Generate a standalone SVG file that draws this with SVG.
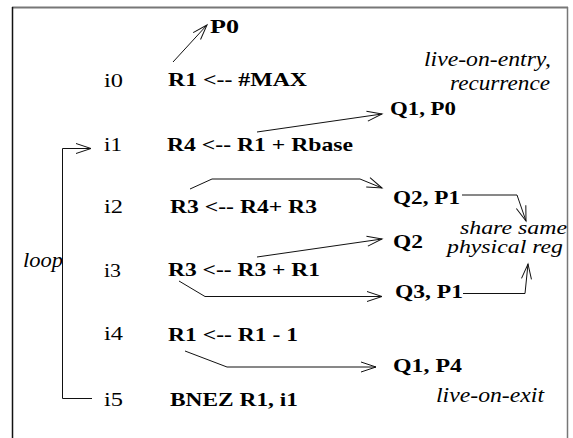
<svg xmlns="http://www.w3.org/2000/svg" width="573" height="438" viewBox="0 0 573 438">
  <style>
    .ins { font-family: "Liberation Serif", "Times New Roman", serif; font-weight: bold; font-size: 19px; fill: #000; }
    .lbl { font-family: "Liberation Serif", "Times New Roman", serif; font-size: 19px; fill: #000; }
    .note { font-family: "Liberation Serif", "Times New Roman", serif; font-style: italic; font-size: 20px; fill: #000; }
    .tight { font-size: 18px; }
    .wire { fill: none; stroke: #111; stroke-width: 1; marker-end: url(#head); }
  </style>
  <defs>
    <!-- open V arrowhead -->
    <marker id="head" markerUnits="userSpaceOnUse" markerWidth="20" markerHeight="14" refX="15" refY="5" orient="auto" overflow="visible">
      <path d="M0,0 L15,5 L0,10" fill="none" stroke="#111" stroke-width="1"/>
    </marker>
  </defs>

  <rect width="573" height="438" fill="#fff"/>

  <!-- frame (open at the bottom) -->
  <g id="frame">
    <line x1="12" y1="7.5" x2="568" y2="7.5" stroke="#777" stroke-width="2"/>
    <line x1="12.5" y1="7" x2="12.5" y2="438" stroke="#111" stroke-width="1.5"/>
    <line x1="567.5" y1="7" x2="567.5" y2="438" stroke="#777" stroke-width="1.5"/>
  </g>

  <!-- instruction rows -->
  <g id="row-i0">
    <text class="lbl" x="104" y="87" textLength="19" lengthAdjust="spacingAndGlyphs">i0</text>
    <text class="ins" x="168" y="86" textLength="139" lengthAdjust="spacingAndGlyphs">R1 &lt;-- #MAX</text>
  </g>
  <g id="row-i1">
    <text class="lbl" x="104" y="151" textLength="18" lengthAdjust="spacingAndGlyphs">i1</text>
    <text class="ins" x="167" y="151" textLength="186" lengthAdjust="spacingAndGlyphs">R4 &lt;-- R1 + Rbase</text>
  </g>
  <g id="row-i2">
    <text class="lbl" x="104" y="213" textLength="19" lengthAdjust="spacingAndGlyphs">i2</text>
    <text class="ins" x="170" y="213" textLength="147" lengthAdjust="spacingAndGlyphs">R3 &lt;-- R4+ R3</text>
  </g>
  <g id="row-i3">
    <text class="lbl" x="104" y="277" textLength="17" lengthAdjust="spacingAndGlyphs">i3</text>
    <text class="ins" x="168" y="276" textLength="152" lengthAdjust="spacingAndGlyphs">R3 &lt;-- R3 + R1</text>
  </g>
  <g id="row-i4">
    <text class="lbl" x="104" y="340" textLength="19" lengthAdjust="spacingAndGlyphs">i4</text>
    <text class="ins" x="168" y="341" textLength="130" lengthAdjust="spacingAndGlyphs">R1 &lt;-- R1 - 1</text>
  </g>
  <g id="row-i5">
    <text class="lbl" x="104" y="406" textLength="19" lengthAdjust="spacingAndGlyphs">i5</text>
    <text class="ins" x="170" y="406" textLength="128" lengthAdjust="spacingAndGlyphs">BNEZ R1, i1</text>
  </g>

  <!-- physical register targets -->
  <g id="reg-p0"><text class="ins" x="210" y="33" textLength="29" lengthAdjust="spacingAndGlyphs">P0</text></g>
  <g id="reg-q1p0"><text class="ins" x="390" y="115" textLength="66" lengthAdjust="spacingAndGlyphs">Q1, P0</text></g>
  <g id="reg-q2p1"><text class="ins" x="393" y="204" textLength="67" lengthAdjust="spacingAndGlyphs">Q2, P1</text></g>
  <g id="reg-q2"><text class="ins" x="393" y="248" textLength="30" lengthAdjust="spacingAndGlyphs">Q2</text></g>
  <g id="reg-q3p1"><text class="ins" x="395" y="298" textLength="68" lengthAdjust="spacingAndGlyphs">Q3, P1</text></g>
  <g id="reg-q1p4"><text class="ins" x="393" y="372" textLength="69" lengthAdjust="spacingAndGlyphs">Q1, P4</text></g>

  <!-- annotations -->
  <g id="note-entry">
    <text class="note" x="424" y="66" textLength="127" lengthAdjust="spacingAndGlyphs">live-on-entry,</text>
    <text class="note" x="450" y="90" textLength="100" lengthAdjust="spacingAndGlyphs">recurrence</text>
  </g>
  <g id="note-share">
    <text class="note tight" x="460" y="234" textLength="107" lengthAdjust="spacingAndGlyphs">share same</text>
    <text class="note tight" x="447" y="253" textLength="116" lengthAdjust="spacingAndGlyphs">physical reg</text>
  </g>
  <g id="note-loop"><text class="note" x="23" y="267" textLength="40" lengthAdjust="spacingAndGlyphs">loop</text></g>
  <g id="note-exit"><text class="note" x="436" y="402" textLength="108" lengthAdjust="spacingAndGlyphs">live-on-exit</text></g>

  <!-- connectors -->
  <g id="connectors">
    <polyline class="wire" points="173,62 207,25"/>
    <polyline class="wire" points="257,132 382,114"/>
    <polyline class="wire" points="190,189 212,179 360,179 382,188"/>
    <polyline class="wire" points="257,257 382,239"/>
    <polyline class="wire" points="179,281 205,296.5 382,296.5"/>
    <polyline class="wire" points="185,351 227,367 376,367"/>
    <polyline class="wire" points="462,195 517,195 526,221"/>
    <polyline class="wire" points="463,293.5 525,293.5 528,264"/>
    <polyline class="wire" points="92,398.5 62.5,398.5 62.5,148.5 91,148.5"/>
  </g>
</svg>
